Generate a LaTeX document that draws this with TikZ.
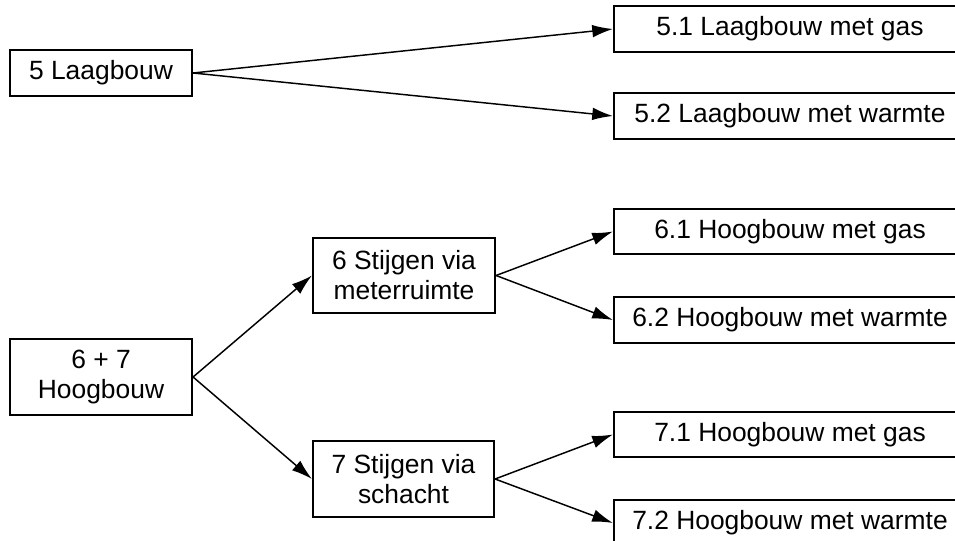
\documentclass[tikz,border=0pt]{standalone}
\usepackage{fontspec}
\setmainfont{Liberation Sans}
\usetikzlibrary{arrows.meta}
\begin{document}
\begin{tikzpicture}[x=0.75pt,y=-0.75pt,
  box/.style={draw=black, line width=1.6pt, align=center, inner sep=0pt,
    font=\fontsize{19.8}{22.5}\selectfont},
  wh/.style 2 args={minimum width=#1*0.75pt, minimum height=#2*0.75pt},
  conn/.style={draw=black, line width=1.1pt, -{Latex[length=15.5pt,width=9.5pt]}}]
\useasboundingbox (0,0) rectangle (955,541);
\clip (0,0) rectangle (955,541);
\fill[white] (0,0) rectangle (955,541);
% nodes
\node[box, wh={182}{46}] (L5) at (101,73) {5 Laagbouw};
\node[box, wh={352}{46}] (L51) at (790,29) {5.1 Laagbouw met gas};
\node[box, wh={352}{46}] (L52) at (790,116) {5.2 Laagbouw met warmte};
\node[box, wh={182}{76}] (H67) at (101,377) {6 + 7\\Hoogbouw};
\node[box, wh={182}{75}] (S6) at (404,275.5) {6 Stijgen via\\meterruimte};
\node[box, wh={181}{76}] (S7) at (403.5,479) {7 Stijgen via\\schacht};
\node[box, wh={352}{45}] (H61) at (790,231.5) {6.1 Hoogbouw met gas};
\node[box, wh={352}{46}] (H62) at (790,320) {6.2 Hoogbouw met warmte};
\node[box, wh={352}{45}] (H71) at (790,434.5) {7.1 Hoogbouw met gas};
\node[box, wh={352}{46}] (H72) at (790,523) {7.2 Hoogbouw met warmte};
% connectors
\draw[conn] (L5.east) -- (L51.west);
\draw[conn] (L5.east) -- (L52.west);
\draw[conn] (H67.east) -- (S6.west);
\draw[conn] (H67.east) -- (S7.west);
\draw[conn] (S6.east) -- (H61.west);
\draw[conn] (S6.east) -- (H62.west);
\draw[conn] (S7.east) -- (H71.west);
\draw[conn] (S7.east) -- (H72.west);
\end{tikzpicture}
\end{document}
